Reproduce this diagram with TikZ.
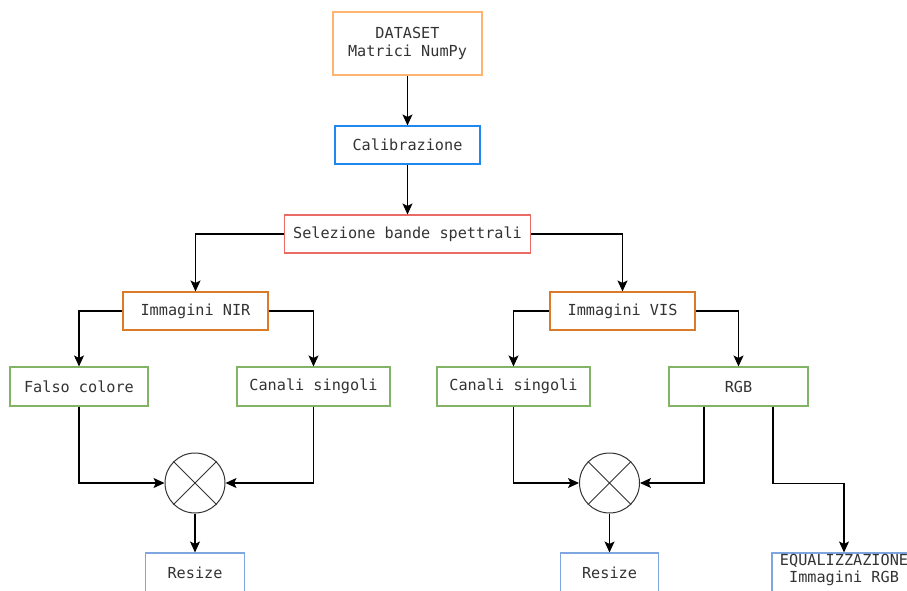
\documentclass[tikz,border=0pt]{standalone}
\usepackage{fontspec}
\setmonofont{DejaVu Sans Mono}
\usetikzlibrary{arrows.meta,calc}
\definecolor{cOrangeL}{HTML}{FFB570}
\definecolor{cBlue}{HTML}{1E88F0}
\definecolor{cRed}{HTML}{EA6B66}
\definecolor{cOrange}{HTML}{DA7B2A}
\definecolor{cGreen}{HTML}{82B366}
\definecolor{cBlueL}{HTML}{7EA6E0}
\definecolor{cText}{HTML}{333333}
\tikzset{
  box/.style={draw, line width=1.1pt, rectangle, inner sep=0pt, minimum height=38pt,
    font=\ttfamily\fontsize{15.2}{18}\selectfont, text=cText, align=center},
  conn/.style={draw=black, line width=1.2pt, -{Stealth[length=11pt,width=10pt,inset=2.5pt]}},
  mult/.style={draw=black!80, line width=1pt, circle, minimum size=60pt, inner sep=0pt},
  txt/.style={font=\ttfamily\fontsize{15.2}{17.5}\selectfont, text=cText, align=center, inner sep=0pt}
}
\begin{document}
\begin{tikzpicture}[x=1pt,y=-1pt]
\useasboundingbox (0,0) rectangle (907,590);
\clip (0,0) rectangle (907,590);
\fill[white] (0,0) rectangle (907,590);

\node[box, draw=cOrangeL, minimum width=149pt, minimum height=63pt] (data) at (407.5,43.5) {DATASET\\Matrici NumPy};
\node[box, draw=cBlue, minimum width=145pt] (calib) at (407.5,145) {Calibrazione};
\node[box, draw=cRed, minimum width=246pt] (sel) at (407.5,234) {Selezione bande spettrali};
\node[box, draw=cOrange, minimum width=145pt] (nir) at (195.5,311) {Immagini NIR};
\node[box, draw=cOrange, minimum width=145pt] (vis) at (622.5,311) {Immagini VIS};
\node[box, draw=cGreen, minimum width=138pt, minimum height=39pt] (falso) at (79,386.5) {Falso colore};
\node[box, draw=cGreen, minimum width=153pt, minimum height=39pt] (canl) at (313.5,386.5) {Canali singoli};
\node[box, draw=cGreen, minimum width=153pt, minimum height=39pt] (canr) at (513.5,386.5) {Canali singoli};
\node[box, draw=cGreen, minimum width=139pt, minimum height=39pt] (rgb) at (738.5,386.5) {RGB};

\node[mult] (cl) at (195,483) {};
\node[mult] (cr) at (609.5,483) {};
\draw[draw=black!80, line width=1pt] (cl.45) -- (cl.225) (cl.135) -- (cl.-45);
\draw[draw=black!80, line width=1pt] (cr.45) -- (cr.225) (cr.135) -- (cr.-45);

\node[box, draw=cBlueL, minimum width=99pt, minimum height=39pt] (resl) at (195,572.5) {Resize};
\node[box, draw=cBlueL, minimum width=98pt, minimum height=39pt] (resr) at (609.5,572.5) {Resize};
\node[box, draw=cBlueL, minimum width=144pt, minimum height=60pt] (equal) at (844,583) {};
\node[txt] (eqtxt) at (844,570) {EQUALIZZAZIONE\\Immagini RGB};

\draw[conn] (data.south) -- (calib.north);
\draw[conn] (calib.south) -- (sel.north);
\draw[conn] (sel.west) -| (nir.north);
\draw[conn] (sel.east) -| (vis.north);
\draw[conn] (nir.west) -| (falso.north);
\draw[conn] (nir.east) -| (canl.north);
\draw[conn] (vis.west) -| (canr.north);
\draw[conn] (vis.east) -| (rgb.north);
\draw[conn] (falso.south) |- (cl.west);
\draw[conn] (canl.south) |- (cl.east);
\draw[conn] (canr.south) |- (cr.west);
\draw[conn] ([xshift=-34.5pt]rgb.south) |- (cr.east);
\draw[conn] ([xshift=34.5pt]rgb.south) -- ++(0,77) -| (equal.north);
\draw[conn] (cl.south) -- (resl.north);
\draw[conn] (cr.south) -- (resr.north);
\end{tikzpicture}
\end{document}
